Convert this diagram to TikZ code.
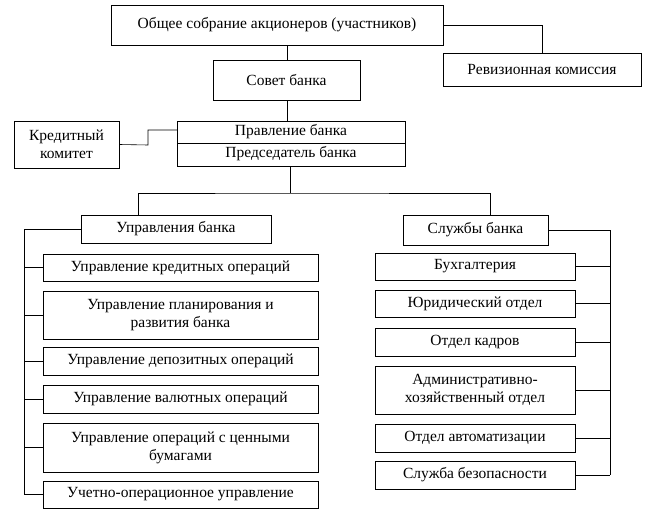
\documentclass[tikz,border=0pt]{standalone}
\usepackage{fontspec}
\setmainfont{Liberation Serif}
\tikzset{
  box/.style={draw, semithick, align=center, inner sep=0pt, font=\fontsize{15.5}{18}\selectfont}, % every box of the chart
  link/.style={semithick}, % connectors
}
\newcommand{\orgbox}[6]{\node[box, minimum width=#4-#2, minimum height=#5-#3] (#1) at ({(#2+#4)/2},{(#3+#5)/2}) {#6};}
\begin{document}
\begin{tikzpicture}[x=1pt, y=-1pt]
  \useasboundingbox (0,0) rectangle (649,519);
  \orgbox{meet}{111}{5}{443}{45}{Общее собрание акционеров (участников)}
  \orgbox{council}{213}{60}{360}{100}{Совет банка}
  \orgbox{audit}{443}{53}{641}{86}{Ревизионная комиссия}
  \orgbox{credit}{14}{121}{119}{168}{Кредитный\\комитет}
  \orgbox{board}{177}{121}{405}{166}{}
  \draw[semithick] (177,143) -- (405,143);
  \node[font=\fontsize{15.5}{18}\selectfont] at (291,132) {Правление банка};
  \node[font=\fontsize{15.5}{18}\selectfont] at (291,154) {Председатель банка};
  \orgbox{depts}{81}{215}{271}{243}{Управления банка}
  \orgbox{servs}{403}{215}{548}{245}{Службы банка}
  % left column
  \orgbox{l1}{43}{254}{318}{281}{Управление кредитных операций}
  \orgbox{l2}{43}{291}{318}{339}{Управление планирования и\\развития банка}
  \orgbox{l3}{43}{347}{318}{375}{Управление депозитных операций}
  \orgbox{l4}{43}{385}{318}{413}{Управление валютных операций}
  \orgbox{l5}{43}{423}{318}{472}{Управление операций с ценными\\бумагами}
  \orgbox{l6}{43}{481}{318}{508}{Учетно-операционное управление}
  % right column
  \orgbox{r1}{375}{253}{575}{280}{Бухгалтерия}
  \orgbox{r2}{375}{290}{575}{317}{Юридический отдел}
  \orgbox{r3}{375}{328}{575}{356}{Отдел кадров}
  \orgbox{r4}{375}{366}{575}{414}{Административно-\\хозяйственный отдел}
  \orgbox{r5}{375}{424}{575}{452}{Отдел автоматизации}
  \orgbox{r6}{375}{461}{575}{489}{Служба безопасности}

  \coordinate (mid) at (287,0);
  \draw[link] (meet.south -| mid) -- (council.north -| mid);
  \draw[link] (council.south -| mid) -- (board.north -| mid);
  \draw[link] (meet.east) -| (audit.north);
  \draw[link] (credit.east) -- (148,145) |- (177,130);
  \coordinate (split) at (290,193);
  \draw[link] (board.south -| split) -- (split);
  \draw[link] (depts.north -| 138,0) |- (split) -| (servs.north -| 490,0);
  \draw[link] (depts.west) -| (24,494.5);
  \foreach \b in {l1,l2,l3,l4,l5,l6} \draw[link] (\b.west) -- (\b.west -| 24,0);
  \draw[link] (servs.east) -| (610,475);
  \foreach \b in {r1,r2,r3,r4,r5,r6} \draw[link] (\b.east) -- (\b.east -| 610,0);
\end{tikzpicture}
\end{document}
